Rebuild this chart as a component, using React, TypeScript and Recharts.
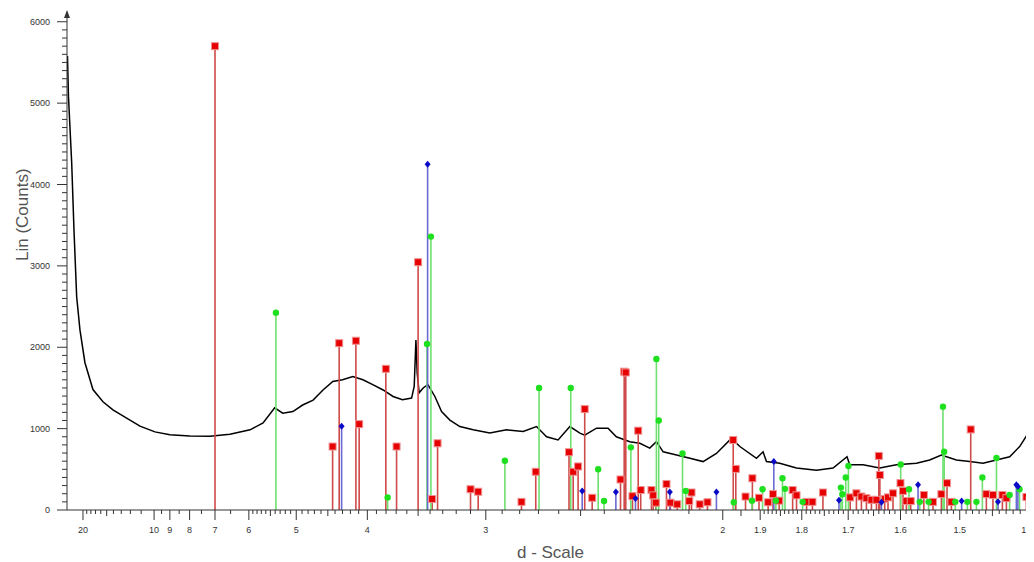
import React from "react";
import {
  ComposedChart,
  Line,
  Scatter,
  XAxis,
  YAxis,
  ReferenceLine,
  ReferenceDot,
} from "recharts";

// measured pattern: d-spacing (Å) and counts
const patternD = [
  25.58, 25.13, 23.78, 22.9, 21.95, 20.88, 19.46, 17.54, 15.61, 14.07, 12.39,
  11.1, 9.94, 9.0, 7.99, 7.18, 6.52, 5.97, 5.66, 5.41, 5.25, 5.06, 4.89, 4.72,
  4.57, 4.43, 4.3, 4.17, 4.05, 3.94, 3.83, 3.73, 3.64, 3.557, 3.534, 3.519,
  3.508, 3.491, 3.457, 3.418, 3.361, 3.309, 3.246, 3.174, 3.082, 2.975, 2.874,
  2.781, 2.71, 2.659, 2.603, 2.548, 2.503, 2.482, 2.432, 2.385, 2.352, 2.301,
  2.264, 2.229, 2.206, 2.183, 2.139, 2.097, 2.057, 2.018, 1.976, 1.953, 1.9095,
  1.8927, 1.8842, 1.8516, 1.8122, 1.7671, 1.7314, 1.7024, 1.697, 1.6704,
  1.6383, 1.6074, 1.5718, 1.5491, 1.5296, 1.5053, 1.4844, 1.4641, 1.4442,
  1.4249, 1.4108, 1.3993, 1.3924,
];
const patternCounts = [
  5580, 5080, 4270, 3440, 2620, 2210, 1810, 1480, 1330, 1230, 1130, 1030, 960,
  925, 910, 905, 930, 985, 1070, 1255, 1190, 1210, 1290, 1350, 1475, 1580,
  1600, 1640, 1600, 1540, 1475, 1395, 1355, 1375, 1520, 2090, 1685, 1440, 1500,
  1540, 1395, 1210, 1105, 1025, 985, 945, 985, 965, 1025, 900, 860, 1025, 945,
  920, 1005, 1005, 900, 840, 820, 760, 840, 715, 675, 635, 595, 695, 880, 780,
  635, 715, 595, 575, 515, 490, 515, 655, 555, 555, 515, 555, 575, 615, 675,
  615, 595, 575, 615, 655, 780, 940, 920,
];

// reference phase 1 (red squares)
const redD = [
  7.0, 4.433, 4.344, 4.133, 4.094, 3.802, 3.696, 3.5, 3.383, 3.34, 3.1, 3.049,
  2.79, 2.714, 2.552, 2.533, 2.511, 2.482, 2.45, 2.336, 2.322, 2.316, 2.291,
  2.27, 2.261, 2.223, 2.217, 2.208, 2.172, 2.159, 2.137, 2.099, 2.092, 2.067,
  2.044, 1.971, 1.964, 1.938, 1.92, 1.903, 1.88, 1.868, 1.853, 1.821, 1.812,
  1.789, 1.776, 1.753, 1.696, 1.6835, 1.6736, 1.6638, 1.6541, 1.6445, 1.64,
  1.638, 1.6289, 1.6228, 1.6136, 1.6, 1.5955, 1.5894, 1.5818, 1.559, 1.5435,
  1.5296, 1.5204, 1.5133, 1.4828, 1.459, 1.4492, 1.4354, 1.4296, 1.4014,
  1.3969,
];
const redI = [
  5700, 780, 2050, 2080, 1055, 1735, 780, 3045, 135, 820, 255, 225, 100, 470,
  710, 470, 535, 1240, 150, 375, 1700, 1690, 170, 975, 245, 245, 180, 90, 320,
  90, 70, 110, 215, 70, 95, 860, 505, 165, 390, 150, 95, 195, 115, 245, 180,
  100, 100, 215, 155, 205, 165, 145, 125, 125, 665, 430, 135, 155, 205, 330,
  235, 110, 110, 185, 100, 195, 330, 100, 990, 195, 185, 185, 145, 160, 120,
];

// reference phase 2 (green circles)
const greenD = [
  5.385, 3.784, 3.425, 3.393, 2.884, 2.697, 2.544, 2.425, 2.401, 2.297, 2.206,
  2.198, 2.12, 2.11, 1.9695, 1.921, 1.894, 1.861, 1.845, 1.839, 1.798, 1.715,
  1.712, 1.705, 1.6996, 1.5996, 1.5848, 1.566, 1.551, 1.527, 1.525, 1.507,
  1.488, 1.474, 1.465, 1.444, 1.425, 1.411, 1.3946,
];
const greenI = [
  2425, 155, 2040, 3360, 605, 1500, 1500, 500, 110, 770, 1855, 1100, 695, 235,
  95, 115, 255, 115, 390, 260, 100, 275, 195, 400, 540, 560, 255, 100, 100,
  1270, 715, 100, 100, 100, 400, 640, 185, 255, 140,
];

// reference phase 3 (blue diamonds)
const blueD = [
  4.312, 3.42, 2.493, 2.354, 2.28, 2.161, 2.018, 1.866, 1.719, 1.635, 1.569,
  1.497, 1.4418, 1.4154, 1.4133,
];
const blueI = [
  1030, 4250, 235, 220, 140, 220, 220, 595, 120, 95, 310, 110, 100, 310, 290,
];

// axis ticks (d values)
const majorD = [20, 10, 9, 8, 7, 6, 5, 4, 3, 2, 1.9, 1.8, 1.7, 1.6, 1.5, 1.4];
const mediumD = [15, 5.5, 4.5, 3.5, 2.5, 1.95, 1.85, 1.75, 1.65, 1.55, 1.45];
const yTicksMajor = [0, 1000, 2000, 3000, 4000, 5000, 6000];

const FONT = "'Liberation Sans', Arial, sans-serif";
const D_MAX = 25.8;
const D_MIN = 1.391;

const pattern = patternD.map((d, i) => ({ q: 1 / d, v: patternCounts[i] }));
const toPts = (ds: number[], is: number[]) =>
  ds.map((d, i) => ({ q: 1 / d, v: is[i] }));
const redPts = toPts(redD, redI);
const greenPts = toPts(greenD, greenI);
const bluePts = toPts(blueD, blueI);

const r2 = (v: number) => Math.round(v * 100) / 100;

// build tick list
const minorD: number[] = [];
for (let i = 11; i <= 19; i++) minorD.push(i);
[9.5, 8.5, 7.5, 6.5].forEach((d) => minorD.push(d));
for (let i = 21; i <= 59; i++) minorD.push(r2(i / 10));
minorD.push(1.95);
for (let i = 141; i <= 189; i++) minorD.push(r2(i / 100));
const allTickD = Array.from(new Set([...majorD, ...minorD]));
const xTicks = allTickD.map((d) => 1 / d).sort((a, b) => a - b);
const yTicks: number[] = [];
for (let v = 0; v <= 6000; v += 100) yTicks.push(v);

const XTick = (props: any) => {
  const { x, y, payload } = props;
  const d = r2(1 / payload.value);
  const isMajor = majorD.includes(d);
  const isMed = mediumD.includes(d);
  const len = isMajor ? 10 : isMed ? 6 : 4;
  return (
    <g>
      <line x1={x} x2={x} y1={y} y2={y + len} stroke="#333" strokeWidth={1} />
      {isMajor && (
        <text x={x} y={y + 23} textAnchor="middle" fontSize={9} fill="#333" fontFamily={FONT}>
          {String(d)}
        </text>
      )}
    </g>
  );
};

const YTick = (props: any) => {
  const { x, y, payload } = props;
  const isMajor = yTicksMajor.includes(payload.value);
  return (
    <g>
      <line x1={x - (isMajor ? 10 : 5)} x2={x} y1={y} y2={y} stroke="#333" strokeWidth={1} />
      {isMajor && (
        <text x={x - 17} y={y + 3} textAnchor="end" fontSize={9} fill="#333" fontFamily={FONT}>
          {payload.value}
        </text>
      )}
    </g>
  );
};

const RedMark = (p: any) => (
  <rect x={p.cx - 3.5} y={p.cy - 3.5} width={7} height={7} fill="#e60000" stroke="#f09090" strokeWidth={1} />
);
const GreenMark = (p: any) => <circle cx={p.cx} cy={p.cy} r={3.2} fill="#1ee01e" />;
const BlueMark = (p: any) => (
  <polygon
    points={`${p.cx},${p.cy - 3.5} ${p.cx + 3},${p.cy} ${p.cx},${p.cy + 3.5} ${p.cx - 3},${p.cy}`}
    fill="#0a0ac8"
  />
);
const Arrow = (p: any) => (
  <polygon points={`${p.cx},${p.cy - 2} ${p.cx - 3},${p.cy + 6} ${p.cx + 3},${p.cy + 6}`} fill="#333" />
);

const sticks = (pts: { q: number; v: number }[], color: string, key: string) =>
  pts.map((p, i) => (
    <ReferenceLine
      key={key + i}
      segment={[
        { x: p.q, y: 0 },
        { x: p.q, y: p.v },
      ]}
      stroke={color}
      strokeWidth={1.6}
      ifOverflow="visible"
    />
  ));

export default function App() {
  return (
    <div style={{ fontFamily: FONT }}>
      <ComposedChart width={1026} height={554} margin={{ top: 4, right: 0, bottom: 0, left: 0 }}>
        <XAxis
          type="number"
          dataKey="q"
          domain={[1 / D_MAX, 1 / D_MIN]}
          allowDataOverflow
          ticks={xTicks}
          interval={0}
          tick={<XTick />}
          tickLine={false}
          tickSize={0}
          tickMargin={0}
          height={52}
          axisLine={{ stroke: "#333" }}
          label={{ value: "d - Scale", position: "insideBottom", offset: 4, fontSize: 17, fill: "#555", fontFamily: FONT }}
        />
        <YAxis
          type="number"
          domain={[0, 6120]}
          allowDataOverflow
          ticks={yTicks}
          interval={0}
          tick={<YTick />}
          tickLine={false}
          tickSize={0}
          tickMargin={0}
          width={59}
          axisLine={{ stroke: "#333" }}
          label={{ value: "Lin (Counts)", angle: -90, position: "insideLeft", offset: 14, fontSize: 17, fill: "#555", fontFamily: FONT }}
        />
        <Line
          data={pattern}
          dataKey="v"
          type="linear"
          stroke="#000"
          strokeWidth={1.5}
          dot={false}
          isAnimationActive={false}
        />
        {sticks(redPts, "#cf4a4a", "r")}
        {sticks(greenPts, "#6fe06f", "g")}
        {sticks(bluePts, "#6a6ad2", "b")}
        <Scatter data={redPts} dataKey="v" shape={<RedMark />} isAnimationActive={false} />
        <Scatter data={greenPts} dataKey="v" shape={<GreenMark />} isAnimationActive={false} />
        <Scatter data={bluePts} dataKey="v" shape={<BlueMark />} isAnimationActive={false} />
        <ReferenceDot x={1 / D_MAX} y={6120} ifOverflow="visible" shape={<Arrow />} />
      </ComposedChart>
    </div>
  );
}
